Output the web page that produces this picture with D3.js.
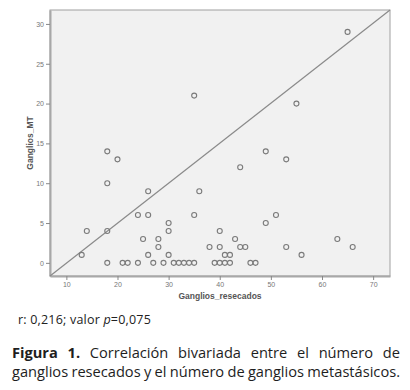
<!DOCTYPE html>
<html>
<head>
<meta charset="utf-8">
<script src="https://cdn.jsdelivr.net/npm/d3@7"></script>
<style>
  body { margin: 0; background: #fff; }
</style>
</head>
<body>
<div id="chart"></div>
<script>
// Ganglios resecados (x) y ganglios metastásicos (y)
const ganglios_resecados = [13, 14, 18, 18, 18, 18, 20, 21, 22, 24, 24, 25, 26, 26, 26, 27, 28, 28, 29,
  30, 30, 30, 31, 32, 33, 34, 35, 35, 35, 36, 38, 39, 40, 40, 40, 41, 41, 42, 42, 43, 44, 44, 45,
  46, 47, 49, 49, 51, 53, 53, 55, 56, 63, 65, 66];
const ganglios_mt = [1, 4, 14, 10, 4, 0, 13, 0, 0, 6, 0, 3, 9, 6, 1, 0, 3, 2, 0,
  5, 4, 1, 0, 0, 0, 0, 21, 6, 0, 9, 2, 0, 4, 2, 0, 1, 0, 1, 0, 3, 12, 2, 2,
  0, 0, 14, 5, 6, 13, 2, 20, 1, 3, 29, 2];
const xTicks = [10, 20, 30, 40, 50, 60, 70];
const yTicks = [0, 5, 10, 15, 20, 25, 30];

const W = 410, H = 390;
const plot = { left: 50, right: 390, top: 10, bottom: 276 };

const svg = d3.select("#chart").append("svg")
    .attr("width", W)
    .attr("height", H);

// scales (SPSS style padding around data range)
const x = d3.scaleLinear().domain([6.8, 73.3]).range([plot.left, plot.right]);
const y = d3.scaleLinear().domain([-1.65, 31.75]).range([plot.bottom, plot.top]);

// plot background
svg.append("rect")
    .attr("x", plot.left)
    .attr("y", plot.top)
    .attr("width", plot.right - plot.left)
    .attr("height", plot.bottom - plot.top)
    .attr("fill", "#f1f1f1")
    .attr("stroke", "#a0a0a0")
    .attr("stroke-width", 1);

// axes
const xAxis = svg.append("g")
    .attr("transform", `translate(0,${plot.bottom})`)
    .call(d3.axisBottom(x).tickValues(xTicks).tickSize(4).tickPadding(2).tickSizeOuter(0));
const yAxis = svg.append("g")
    .attr("transform", `translate(${plot.left},0)`)
    .call(d3.axisLeft(y).tickValues(yTicks).tickSize(4).tickPadding(2).tickSizeOuter(0));

[xAxis, yAxis].forEach(g => {
    g.select(".domain").attr("stroke", "#a8a8a8").attr("stroke-width", 2);
    g.selectAll(".tick line").attr("stroke", "#888");
    g.selectAll("text")
        .attr("fill", "#777")
        .attr("font-family", "Liberation Sans, Arial, sans-serif")
        .attr("font-size", "7px");
});

// reference line corner to corner
svg.append("line")
    .attr("x1", x(x.domain()[0]))
    .attr("y1", y(y.domain()[0]))
    .attr("x2", x(x.domain()[1]))
    .attr("y2", y(y.domain()[1]))
    .attr("stroke", "#8a8a8a")
    .attr("stroke-width", 1.2);

// points
svg.append("g")
    .selectAll("circle")
    .data(ganglios_resecados.map((d, i) => [d, ganglios_mt[i]]))
    .enter().append("circle")
    .attr("cx", d => x(d[0]))
    .attr("cy", d => y(d[1]))
    .attr("r", 2.5)
    .attr("fill", "none")
    .attr("stroke", "#7a7a7a")
    .attr("stroke-width", 1.1);

// axis titles
svg.append("text")
    .attr("x", (plot.left + plot.right) / 2)
    .attr("y", 299)
    .attr("text-anchor", "middle")
    .attr("font-family", "Liberation Sans, Arial, sans-serif")
    .attr("font-weight", "bold")
    .attr("font-size", "8.5px")
    .attr("fill", "#555")
    .text("Ganglios_resecados");

svg.append("text")
    .attr("transform", `translate(33,${(plot.top + plot.bottom) / 2}) rotate(-90)`)
    .attr("text-anchor", "middle")
    .attr("font-family", "Liberation Sans, Arial, sans-serif")
    .attr("font-weight", "bold")
    .attr("font-size", "8.5px")
    .attr("fill", "#555")
    .text("Ganglios_MT");

// statistics line
const stat = svg.append("text")
    .attr("x", 18)
    .attr("y", 324)
    .attr("font-family", "Open Sans, sans-serif")
    .attr("font-size", "12.5px")
    .attr("letter-spacing", "0.2px")
    .attr("fill", "#222");
stat.append("tspan").text("r: 0,216; valor ");
stat.append("tspan").attr("font-style", "italic").text("p");
stat.append("tspan").text("=0,075");

// caption, justified between x0 and x1
const capX0 = 12, capX1 = 400;
const captionLine1 = ["Figura", "1.", "Correlación", "bivariada", "entre", "el", "número", "de"];
const captionLine2 = ["ganglios", "resecados", "y", "el", "número", "de", "ganglios", "metastásicos."];

function wordEls(words, yPos, size) {
    return words.map(w => svg.append("text")
        .attr("y", yPos)
        .attr("font-family", "Open Sans, sans-serif")
        .attr("font-size", size + "px")
        .attr("font-weight", w.bold ? "bold" : "normal")
        .attr("fill", "#1e1e1e")
        .text(w.t));
}
function justify(els) {
    const widths = els.map(e => e.node().getComputedTextLength());
    const gap = (capX1 - capX0 - d3.sum(widths)) / (els.length - 1);
    let cx = capX0;
    els.forEach((e, i) => { e.attr("x", cx); cx += widths[i] + gap; });
}

// second line is tightly set: pick the size that makes it fill with ~3px gaps
let capFont = 14;
const probe = wordEls(captionLine2.map(t => ({ t })), 377, capFont);
const natural = d3.sum(probe, e => e.node().getComputedTextLength());
capFont = capFont * (capX1 - capX0 - 7 * 3.2) / natural;
probe.forEach(e => e.attr("font-size", capFont + "px"));
justify(probe);

justify(wordEls(captionLine1.map((t, i) => ({ t, bold: i < 2 })), 358, capFont));
</script>
</body>
</html>
